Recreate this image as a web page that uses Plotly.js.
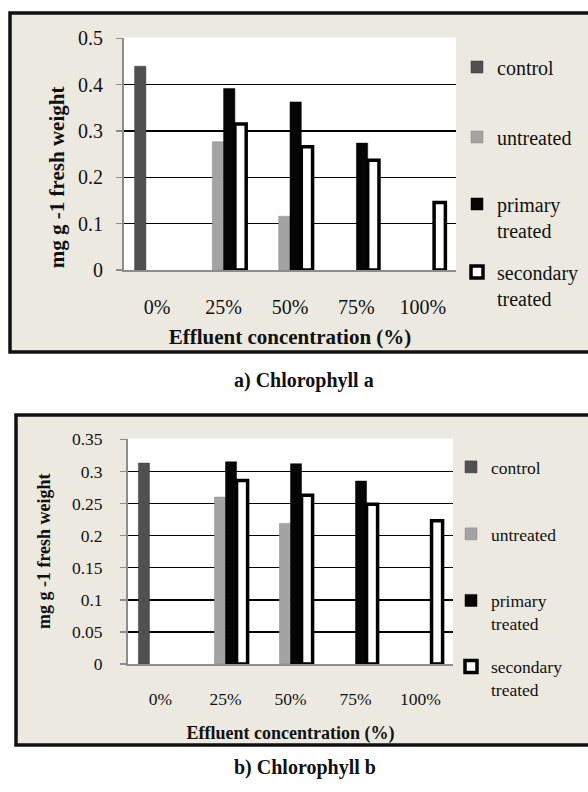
<!DOCTYPE html>
<html>
<head>
<meta charset="utf-8">
<script src="https://cdn.plot.ly/plotly-3.0.1.min.js"></script>
<style>
html,body{margin:0;padding:0;background:#fff;}
#chart{width:588px;height:792px;}
</style>
</head>
<body>
<div id="chart"></div>
<script>
// ---- data ----
var categories = ['0%', '25%', '50%', '75%', '100%'];
var seriesNames = ['control', 'untreated', 'primary<br>treated', 'secondary<br>treated'];

// a) Chlorophyll a (mg g-1 fresh weight)
var chlA_control   = [0.440, null,  null,  null,  null];
var chlA_untreated = [null,  0.277, 0.116, null,  null];
var chlA_primary   = [null,  0.392, 0.363, 0.274, null];
var chlA_secondary = [null,  0.315, 0.266, 0.237, 0.146];

// b) Chlorophyll b (mg g-1 fresh weight)
var chlB_control   = [0.313, null,  null,  null,  null];
var chlB_untreated = [null,  0.260, 0.219, null,  null];
var chlB_primary   = [null,  0.315, 0.312, 0.285, null];
var chlB_secondary = [null,  0.286, 0.263, 0.249, 0.223];

var yTicksA = [0, 0.1, 0.2, 0.3, 0.4, 0.5];
var yTickTextA = ['0', '0.1', '0.2', '0.3', '0.4', '0.5'];
var yTicksB = [0, 0.05, 0.1, 0.15, 0.2, 0.25, 0.3, 0.35];
var yTickTextB = ['0', '0.05', '0.1', '0.15', '0.2', '0.25', '0.3', '0.35'];

// ---- geometry ----
var W = 588, H = 792;
function px(x){ return x / W; }
function py(y){ return 1 - y / H; }

var FONT = "'Liberation Serif', 'Times New Roman', serif";
var styles = [
  {color: '#505050', line: {color: '#3a3a3a', width: 0.5}},
  {color: '#a3a3a3', line: {color: '#8a8a8a', width: 0.5}},
  {color: '#050505', line: {color: '#000', width: 0.5}},
  {color: '#ffffff', line: {color: '#000', width: 3.5}}
];

var traces = [];
var setA = [chlA_control, chlA_untreated, chlA_primary, chlA_secondary];
var setB = [chlB_control, chlB_untreated, chlB_primary, chlB_secondary];
setA.forEach(function(vals, i){
  traces.push({type: 'bar', x: categories, y: vals, name: seriesNames[i],
    xaxis: 'x', yaxis: 'y', marker: styles[i], showlegend: true,
    legend: i === 0 ? 'legend' : 'legend' + (i + 1), hoverinfo: 'y'});
});
setB.forEach(function(vals, i){
  traces.push({type: 'bar', x: categories, y: vals, name: seriesNames[i],
    xaxis: 'x2', yaxis: 'y2', marker: styles[i], showlegend: true,
    legend: 'legend' + (i + 5), hoverinfo: 'y'});
});

function legendAt(textX, yc, size){
  return {x: px(textX - 40), y: py(yc), xanchor: 'left', yanchor: 'middle',
    bgcolor: 'rgba(0,0,0,0)', borderwidth: 0, valign: 'top', visible: true,
    font: {family: FONT, size: size, color: '#111'}};
}

var fontA = 20, fontB = 17.5;
var pad = '&nbsp;&nbsp;&nbsp;&nbsp;&nbsp;&nbsp;&nbsp;&nbsp;&nbsp;';

var layout = {
  width: W, height: H,
  margin: {l: 0, r: 0, t: 0, b: 0},
  showlegend: true,
  paper_bgcolor: '#ffffff',
  plot_bgcolor: '#ffffff',
  barmode: 'group',
  bargap: 0.32,
  bargroupgap: 0,
  font: {family: FONT, color: '#111'},
  xaxis: {
    type: 'category',
    domain: [px(124), px(456)], anchor: 'y',
    showline: true, linecolor: '#8c8c8c', linewidth: 2,
    ticks: '', ticklabelstandoff: 18,
    tickfont: {family: FONT, size: fontA, color: '#111'},
    title: {text: '<b>Effluent concentration (%)</b>', standoff: 12,
            font: {family: FONT, size: 21, color: '#111'}},
    fixedrange: true
  },
  yaxis: {
    domain: [py(270), py(37.5)], anchor: 'x',
    range: [0, 0.502], tickvals: yTicksA, ticktext: yTickTextA,
    showgrid: true, gridcolor: '#000', gridwidth: 1.5,
    zeroline: false,
    showline: true, linecolor: '#8c8c8c', linewidth: 2,
    ticks: 'outside', ticklen: 6, tickcolor: '#8c8c8c', tickwidth: 1.5,
    ticklabelstandoff: 9,
    tickfont: {family: FONT, size: fontA, color: '#111'},
    title: {text: '<b>mg g -1 fresh weight' + pad + '</b>', standoff: 8,
            font: {family: FONT, size: 21, color: '#111'}},
    fixedrange: true
  },
  xaxis2: {
    type: 'category',
    domain: [px(128), px(453)], anchor: 'y2',
    showline: true, linecolor: '#8c8c8c', linewidth: 2,
    ticks: '', ticklabelstandoff: 18,
    tickfont: {family: FONT, size: fontB, color: '#111'},
    title: {text: '<b>Effluent concentration (%)</b>', standoff: 18,
            font: {family: FONT, size: 18, color: '#111'}},
    fixedrange: true
  },
  yaxis2: {
    domain: [py(664), py(438.5)], anchor: 'x2',
    range: [0, 0.3513], tickvals: yTicksB, ticktext: yTickTextB,
    showgrid: true, gridcolor: '#000', gridwidth: 1.5,
    zeroline: false,
    showline: true, linecolor: '#8c8c8c', linewidth: 2,
    ticks: 'outside', ticklen: 6, tickcolor: '#8c8c8c', tickwidth: 1.5,
    ticklabelstandoff: 14,
    tickfont: {family: FONT, size: fontB, color: '#111'},
    title: {text: '<b>mg g -1 fresh weight</b>', standoff: 17,
            font: {family: FONT, size: 18, color: '#111'}},
    fixedrange: true
  },
  legend:  legendAt(497, 67, fontA),
  legend2: legendAt(497, 137, fontA),
  legend3: legendAt(497, 217, fontA),
  legend4: legendAt(497, 285, fontA),
  legend5: legendAt(491, 467, fontB),
  legend6: legendAt(491, 534, fontB),
  legend7: legendAt(491, 612, fontB),
  legend8: legendAt(491, 678, fontB),
  shapes: [
    {type: 'rect', xref: 'paper', yref: 'paper', layer: 'below',
     x0: px(10), x1: px(600), y0: py(352), y1: py(13),
     fillcolor: '#ECE9E0', line: {color: '#111', width: 3.5}},
    {type: 'rect', xref: 'paper', yref: 'paper', layer: 'below',
     x0: px(124), x1: px(456), y0: py(270), y1: py(37.5),
     fillcolor: '#ffffff', line: {width: 0}},
    {type: 'rect', xref: 'paper', yref: 'paper', layer: 'below',
     x0: px(16), x1: px(600), y0: py(745), y1: py(415),
     fillcolor: '#ECE9E0', line: {color: '#111', width: 3.5}},
    {type: 'rect', xref: 'paper', yref: 'paper', layer: 'below',
     x0: px(128), x1: px(453), y0: py(664), y1: py(438.5),
     fillcolor: '#ffffff', line: {width: 0}}
  ],
  annotations: [
    {xref: 'paper', yref: 'paper', x: px(304), y: py(380), showarrow: false,
     text: '<b>a) Chlorophyll a</b>', font: {family: FONT, size: 20, color: '#111'}},
    {xref: 'paper', yref: 'paper', x: px(305), y: py(781), showarrow: false,
     text: '<b>b) Chlorophyll b</b>', font: {family: FONT, size: 20, color: '#111'}}
  ]
};

Plotly.newPlot('chart', traces, layout, {displayModeBar: false, staticPlot: true});
</script>
</body>
</html>
